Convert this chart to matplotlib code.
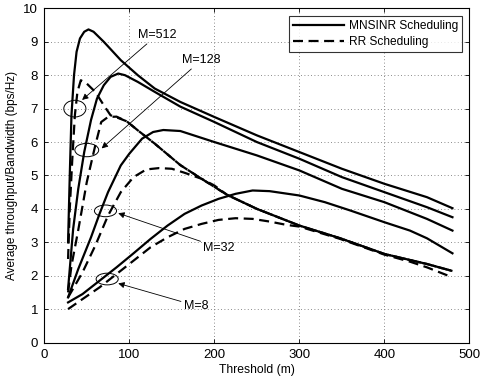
import matplotlib
matplotlib.use("Agg")
import matplotlib.pyplot as plt
from matplotlib.patches import Ellipse

plt.rcParams['font.family'] = ['Liberation Sans', 'DejaVu Sans']

# ---- data (threshold in m, throughput in bps/Hz) ----
x_m512_mn = [28, 30, 32, 35, 38, 42, 47, 52, 58, 70, 90, 110, 130, 160, 200, 250, 300, 350, 400, 450, 480]
y_m512_mn = [3.0, 5.0, 6.8, 8.0, 8.7, 9.1, 9.3, 9.37, 9.3, 9.0, 8.45, 8.0, 7.6, 7.2, 6.75, 6.2, 5.7, 5.2, 4.75, 4.35, 4.02]

x_m128_mn = [28, 30, 34, 40, 47, 55, 62, 70, 78, 87, 95, 110, 130, 160, 200, 250, 300, 350, 400, 450, 480]
y_m128_mn = [1.6, 2.2, 3.4, 4.6, 5.7, 6.66, 7.3, 7.7, 7.95, 8.05, 8.0, 7.8, 7.5, 7.06, 6.6, 6.0, 5.5, 4.95, 4.5, 4.05, 3.75]

x_m32_mn = [28, 40, 55, 65, 75, 90, 100, 115, 128, 140, 160, 200, 250, 300, 350, 400, 450, 480]
y_m32_mn = [1.35, 2.2, 3.15, 3.85, 4.5, 5.3, 5.65, 6.1, 6.3, 6.36, 6.33, 6.0, 5.6, 5.15, 4.6, 4.2, 3.7, 3.35]

x_m8_mn = [28, 45, 65, 85, 105, 125, 145, 165, 185, 205, 225, 245, 265, 300, 330, 360, 400, 430, 450, 480]
y_m8_mn = [1.2, 1.45, 1.85, 2.25, 2.67, 3.1, 3.5, 3.85, 4.1, 4.3, 4.45, 4.55, 4.53, 4.4, 4.2, 3.95, 3.6, 3.35, 3.12, 2.67]

x_m512_rr = [28, 30, 33, 36, 39, 43, 50, 60, 70, 78, 85, 97, 110, 130, 160, 185, 215, 250, 300, 348, 400, 450, 480]
y_m512_rr = [2.5, 4.0, 5.5, 6.8, 7.5, 7.85, 7.75, 7.5, 7.1, 6.8, 6.74, 6.62, 6.35, 5.95, 5.31, 4.9, 4.42, 4.0, 3.5, 3.12, 2.65, 2.35, 2.14]

x_m128_rr = [28, 32, 40, 50, 60, 67, 75, 85, 97, 110, 130, 160, 185, 215, 250, 300, 348, 400, 450, 480]
y_m128_rr = [1.5, 2.3, 3.37, 4.8, 5.9, 6.6, 6.75, 6.76, 6.62, 6.35, 5.95, 5.31, 4.9, 4.42, 4.0, 3.5, 3.12, 2.65, 2.35, 2.14]

x_m32_rr = [28, 45, 60, 75, 90, 105, 120, 135, 150, 165, 185, 200, 215, 250, 300, 348, 400, 450, 480]
y_m32_rr = [1.35, 2.1, 2.9, 3.8, 4.5, 4.95, 5.18, 5.22, 5.2, 5.08, 4.9, 4.7, 4.42, 4.0, 3.5, 3.12, 2.65, 2.35, 2.14]

x_m8_rr = [28, 45, 65, 85, 105, 125, 145, 165, 185, 205, 225, 245, 265, 285, 300, 348, 400, 430, 450, 480]
y_m8_rr = [1.0, 1.3, 1.65, 2.05, 2.45, 2.85, 3.15, 3.4, 3.55, 3.67, 3.72, 3.7, 3.62, 3.52, 3.47, 3.1, 2.63, 2.42, 2.25, 1.95]

legend_labels = ["MNSINR Scheduling", "RR Scheduling"]
x_ticks = [0, 100, 200, 300, 400, 500]
y_ticks = [0, 1, 2, 3, 4, 5, 6, 7, 8, 9, 10]

# annotations: label, ellipse center/size, arrow head, text position
ann_labels = ["M=512", "M=128", "M=32", "M=8"]
ell_centers = [(36, 7.0), (50, 5.76), (72, 3.94), (74, 1.9)]
ell_widths = [26, 28, 26, 26]
ell_heights = [0.5, 0.4, 0.35, 0.35]
arrow_heads = [(44.5, 7.26), (67.5, 5.81), (87, 3.87), (87, 1.77)]
text_pos = [(110, 9.2), (162, 8.45), (187, 2.84), (164, 1.1)]

# ---- figure ----
fig = plt.figure(figsize=(4.81, 3.81), dpi=100)
ax = fig.add_axes([0.092, 0.101, 0.884, 0.877])

lw = 1.6
dash = (4.5, 2.5)
ax.plot(x_m512_mn, y_m512_mn, color='black', lw=lw, label=legend_labels[0])
ax.plot(x_m128_mn, y_m128_mn, color='black', lw=lw)
ax.plot(x_m32_mn, y_m32_mn, color='black', lw=lw)
ax.plot(x_m8_mn, y_m8_mn, color='black', lw=lw)
ax.plot(x_m512_rr, y_m512_rr, color='black', lw=lw, ls=(0, dash), label=legend_labels[1])
ax.plot(x_m128_rr, y_m128_rr, color='black', lw=lw, ls=(0, dash))
ax.plot(x_m32_rr, y_m32_rr, color='black', lw=lw, ls=(0, dash))
ax.plot(x_m8_rr, y_m8_rr, color='black', lw=lw, ls=(0, dash))

for lab, c, w, hh, h, t in zip(ann_labels, ell_centers, ell_widths, ell_heights, arrow_heads, text_pos):
    ax.add_patch(Ellipse(c, width=w, height=hh, fill=False, lw=0.7, color='black'))
    ax.annotate(lab, xy=h, xytext=t, fontsize=9, ha='left', va='center',
                arrowprops=dict(arrowstyle='-|>', lw=0.6, color='black',
                                mutation_scale=9, shrinkA=0, shrinkB=0))

ax.set_xlim(0, 500)
ax.set_ylim(0, 10)
ax.set_xticks(x_ticks)
ax.set_yticks(y_ticks)
ax.tick_params(direction='in', top=True, right=True, labelsize=9.5, length=3, width=0.6, pad=4.5)
ax.grid(True, ls=(0, (1, 3)), color='#666666', lw=0.6)
for s in ax.spines.values():
    s.set_linewidth(0.8)
ax.set_xlabel("Threshold (m)", fontsize=8.7, labelpad=2)
ax.set_ylabel("Average throughput/Bandwidth (bps/Hz)", fontsize=8.5, labelpad=4)

leg = ax.legend(loc='upper right', fontsize=8.6, frameon=True, fancybox=False,
                edgecolor='black', handlelength=4.3, borderpad=0.35, labelspacing=0.35,
                handletextpad=0.4, borderaxespad=0.6)
leg.get_frame().set_linewidth(0.8)

fig.savefig("out.png", dpi=100)
